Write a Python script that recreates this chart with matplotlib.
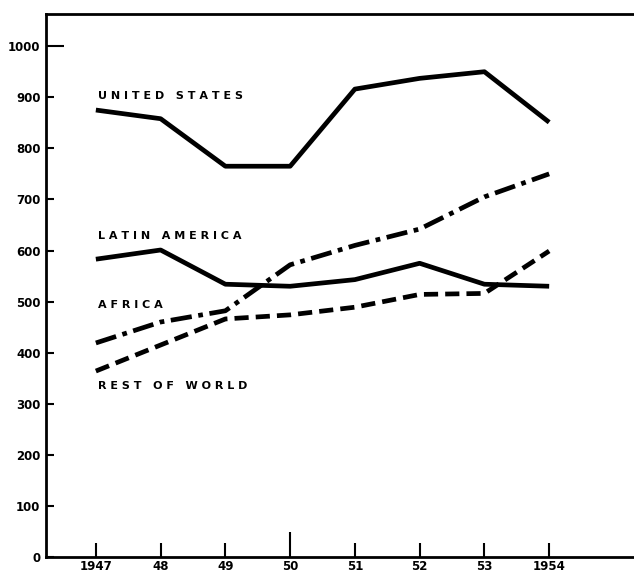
import matplotlib.pyplot as plt

# values
years = [1947, 1948, 1949, 1950, 1951, 1952, 1953, 1954]
year_labels = ["1947", "48", "49", "50", "51", "52", "53", "1954"]
united_states = [875, 858, 765, 765, 916, 937, 950, 851]
latin_america = [583, 601, 534, 530, 543, 575, 534, 530]
africa = [419, 460, 482, 572, 610, 642, 705, 750]
rest_of_world = [364, 415, 466, 474, 489, 514, 516, 599]
y_ticks = [0, 100, 200, 300, 400, 500, 600, 700, 800, 900, 1000]

fig = plt.figure(figsize=(6.34, 5.74), dpi=100)
ax = fig.add_axes([46 / 634, 17 / 574, 1 - 46 / 634, 543 / 574])

lw = 3.4
ax.plot(years, united_states, color="black", lw=lw, solid_capstyle="butt")
ax.plot(years, latin_america, color="black", lw=lw, solid_capstyle="butt")
ax.plot(years, africa, color="black", lw=lw, dashes=(4.5, 1.4, 1.0, 1.4))
ax.plot(years, rest_of_world, color="black", lw=lw, dashes=(3.0, 1.5))

label_kw = dict(fontsize=8, fontweight="bold", ha="left", va="center")
ax.text(1947.03, 903, "U N I T E D   S T A T E S", **label_kw)
ax.text(1947.03, 628, "L A T I N   A M E R I C A", **label_kw)
ax.text(1947.03, 493, "A F R I C A", **label_kw)
ax.text(1947.03, 334, "R E S T   O F   W O R L D", **label_kw)

ax.set_xlim(1946.23, 1955.31)
ax.set_ylim(0, 1063)

ax.set_xticks(years)
ax.set_xticklabels(year_labels, fontsize=8.5, fontweight="bold")
ax.set_yticks(y_ticks)
ax.set_yticklabels([str(v) for v in y_ticks], fontsize=8.5, fontweight="bold")
ax.tick_params(axis="x", direction="in", length=10, width=1.5, pad=2.5)
ax.tick_params(axis="y", direction="in", length=6, width=1.5, pad=4)
ax.yaxis.get_major_ticks()[-1].tick1line.set_markersize(13)
ax.xaxis.get_major_ticks()[3].tick1line.set_markersize(18)

for side in ["left", "bottom", "top"]:
    ax.spines[side].set_linewidth(2)
ax.spines["right"].set_visible(False)

fig.savefig("out.png", dpi=100)
